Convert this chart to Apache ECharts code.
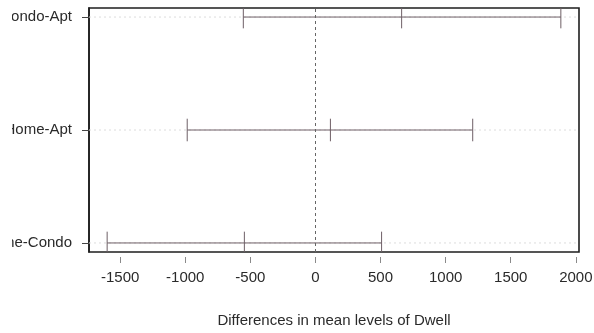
<!DOCTYPE html>
<html>
<head>
<meta charset="utf-8">
<script src="https://cdn.jsdelivr.net/npm/echarts@6/dist/echarts.min.js"></script>
<style>
  html, body { margin: 0; padding: 0; background: #fff; }
  #frame { position: relative; width: 594px; height: 333px; overflow: hidden; background: #fff; }
  #chart { position: absolute; left: 12px; top: 0; width: 582px; height: 333px; }
</style>
</head>
<body>
<div id="frame"><div id="chart"></div></div>
<script>
// Tukey HSD family-wise confidence intervals, listed bottom to top
const comparisons = ['Home-Condo', 'Home-Apt', 'Condo-Apt'];
const diffs  = [-546, 115, 662];
const lowers = [-1600, -985, -554];
const uppers = [508, 1208, 1885];
const xTicks = [-1500, -1000, -500, 0, 500, 1000, 1500, 2000];
const xTitle = 'Differences in mean levels of Dwell';

// axis limits padded by 4% on each side, as in base R graphics
const lo = Math.min(...lowers), hi = Math.max(...uppers);
const xPad = (hi - lo) * 0.04;
const X_MIN = lo - xPad, X_MAX = hi + xPad;
const yLevels = comparisons.map((_, i) => i + 1);
const yPad = (yLevels[yLevels.length - 1] - yLevels[0]) * 0.04;
const Y_MIN = yLevels[0] - yPad, Y_MAX = yLevels[yLevels.length - 1] + yPad;
const WHISKER = 0.1;

const rows = comparisons.map((_, i) => [yLevels[i], lowers[i], diffs[i], uppers[i]]);

const chart = echarts.init(document.getElementById('chart'), null, { renderer: 'canvas' });
const font = 'Liberation Sans, Arial, sans-serif';

chart.setOption({
  animation: false,
  backgroundColor: '#fff',
  grid: {
    left: 77, right: 15, top: 8, bottom: 81,
    containLabel: false, outerBoundsMode: 'none',
    show: true, borderColor: '#1e1e1e', borderWidth: 1.6, backgroundColor: 'transparent'
  },
  xAxis: {
    type: 'value', min: X_MIN, max: X_MAX, offset: 5,
    axisLine: { show: false, onZero: false },
    axisTick: { show: true, length: 6, lineStyle: { color: '#8a8a8a' }, customValues: xTicks },
    axisLabel: { customValues: xTicks, margin: 13, fontFamily: font, fontSize: 15, color: '#2a2a2a',
      formatter: v => String(v) },
    splitLine: { show: false },
    name: xTitle, nameLocation: 'middle', nameGap: 56,
    nameTextStyle: { fontFamily: font, fontSize: 15, color: '#2a2a2a' }
  },
  yAxis: {
    type: 'value', min: Y_MIN, max: Y_MAX,
    axisLine: { show: true, onZero: false, lineStyle: { color: '#1e1e1e', width: 1.6 } },
    axisTick: { show: true, length: 7, lineStyle: { color: '#444', width: 1 }, customValues: yLevels },
    axisLabel: {
      customValues: yLevels, margin: 17, fontFamily: font, fontSize: 15, color: '#2a2a2a',
      formatter: v => comparisons[Math.round(v) - 1] || ''
    },
    splitLine: { show: false }
  },
  series: [{
    type: 'custom',
    data: rows,
    encode: { x: [1, 2, 3], y: 0 },
    renderItem: (params, api) => {
      const y = api.value(0);
      const l = api.value(1), d = api.value(2), u = api.value(3);
      const children = [];
      const g0 = api.coord([X_MIN, y]), g1 = api.coord([X_MAX, y]);
      children.push({ type: 'line', shape: { x1: g0[0], y1: g0[1], x2: g1[0], y2: g1[1] },
        style: { stroke: '#dcdcdc', lineWidth: 1, lineDash: [2, 3] } });
      const a = api.coord([l, y]), b = api.coord([u, y]);
      children.push({ type: 'line', shape: { x1: a[0], y1: a[1], x2: b[0], y2: b[1] },
        style: { stroke: '#6e5f66', lineWidth: 1 } });
      [l, d, u].forEach(x => {
        const p = api.coord([x, y - WHISKER]), q = api.coord([x, y + WHISKER]);
        children.push({ type: 'line', shape: { x1: p[0], y1: p[1], x2: q[0], y2: q[1] },
          style: { stroke: '#6e5f66', lineWidth: 1 } });
      });
      return { type: 'group', children };
    },
    markLine: {
      silent: true, symbol: 'none', label: { show: false },
      lineStyle: { color: '#666', width: 1, type: [3, 3] },
      data: [{ xAxis: 0 }]
    },
    clip: true
  }]
});
</script>
</body>
</html>
